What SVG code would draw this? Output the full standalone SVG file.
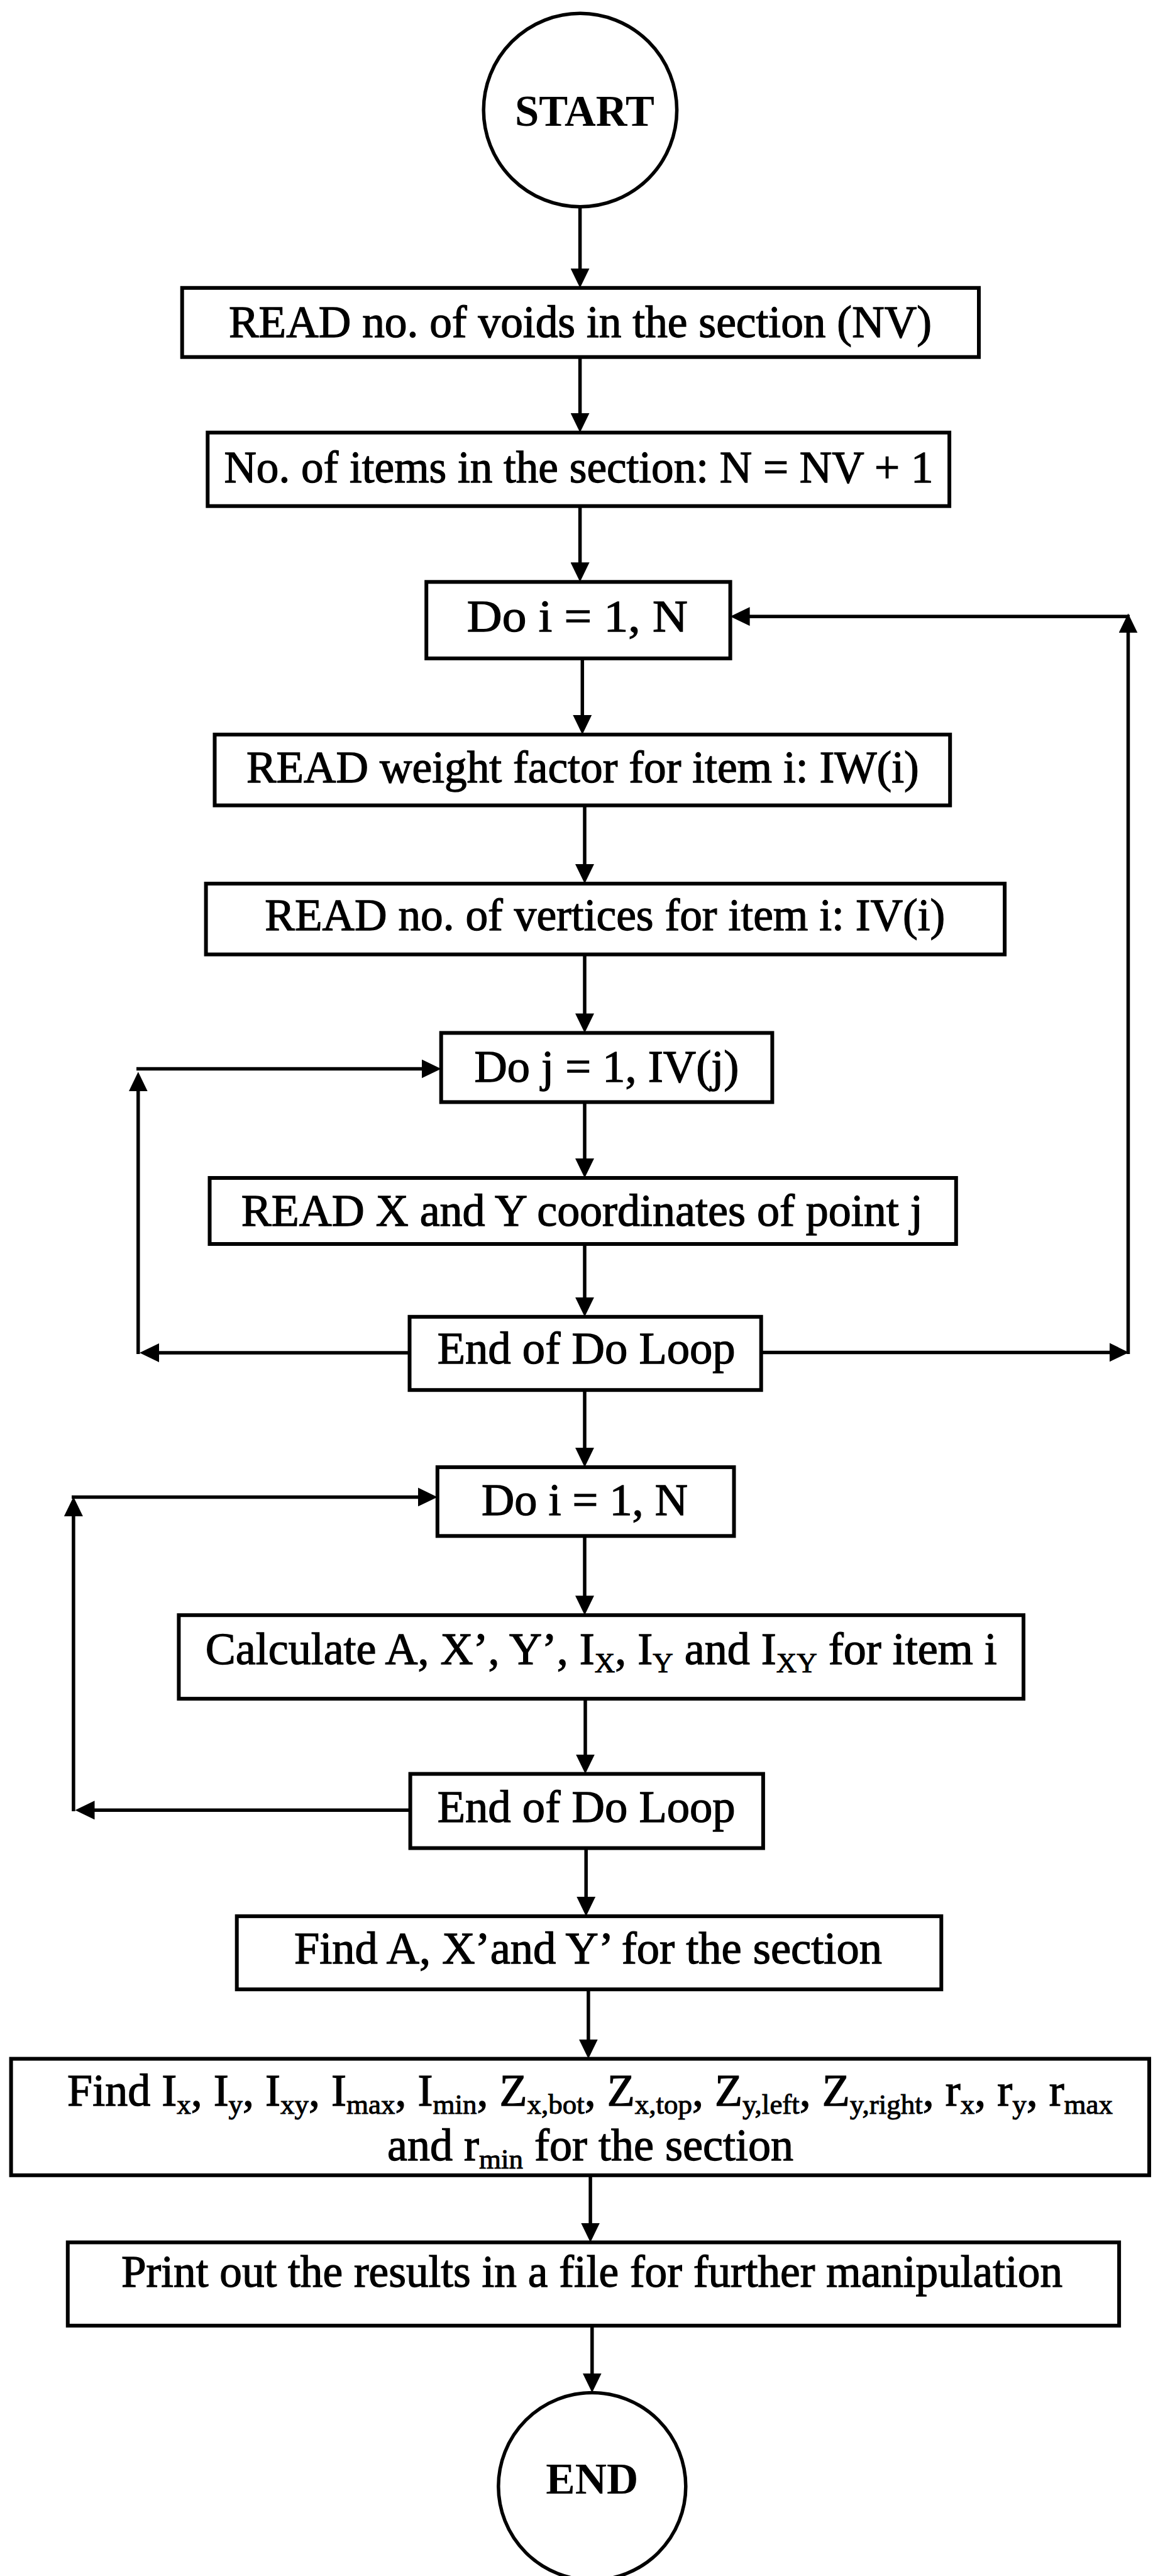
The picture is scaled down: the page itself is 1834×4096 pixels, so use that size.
<svg xmlns="http://www.w3.org/2000/svg" width="1834" height="4096" viewBox="0 0 1834 4096">
  <style>
    .box { fill: #ffffff; stroke: #000000; stroke-width: 6; }
    .term { fill: #ffffff; stroke: #000000; stroke-width: 5.5; }
    .ln { fill: none; stroke: #000000; stroke-width: 5.5; marker-end: url(#head); }
    .t { font-family: "Liberation Serif", "Times New Roman", serif; font-size: 72px; text-anchor: middle; fill: #000000; stroke: #000000; stroke-width: 1.3; }
    .tb { font-family: "Liberation Serif", "Times New Roman", serif; font-size: 70px; font-weight: bold; text-anchor: middle; fill: #000000; }
    .sub { font-size: 45px; stroke-width: 1; }
  </style>
  <defs>
    <marker id="head" markerUnits="userSpaceOnUse" viewBox="0 0 31 30" refX="21" refY="15" markerWidth="31" markerHeight="30" orient="auto">
      <path d="M0,0 L31,15 L0,30 Z" fill="#000000"/>
    </marker>
  </defs>
  <rect width="1834" height="4096" fill="#ffffff"/>

  <!-- connectors -->
  <g id="connectors">
    <path class="ln" d="M922.6,329 V447.8"/>
    <path class="ln" d="M922.6,567.7 V677.8"/>
    <path class="ln" d="M922.6,804.7 V915.3"/>
    <path class="ln" d="M926.3,1046.9 V1158"/>
    <path class="ln" d="M930,1280.6 V1395"/>
    <path class="ln" d="M930,1517.6 V1632.4"/>
    <path class="ln" d="M930,1752.4 V1863"/>
    <path class="ln" d="M930,1978 V2083.8"/>
    <path class="ln" d="M930,2210.2 V2322.9"/>
    <path class="ln" d="M930,2442.3 V2558.2"/>
    <path class="ln" d="M931,2701.1 V2810.6"/>
    <path class="ln" d="M932.2,2938.6 V3036.9"/>
    <path class="ln" d="M935.9,3163.2 V3263.6"/>
    <path class="ln" d="M939.1,3458.8 V3555.5"/>
    <path class="ln" d="M941.8,3697.9 V3794.6"/>

    <!-- outer loop (i), right side -->
    <path class="ln" d="M1210.7,2150.4 H1785.6"/>
    <path class="ln" d="M1794.5,2153 V985.4"/>
    <path class="ln" d="M1797,980.2 H1171.6"/>

    <!-- inner loop (j), left side -->
    <path class="ln" d="M651.5,2151 H232"/>
    <path class="ln" d="M219.8,2153 V1714.3"/>
    <path class="ln" d="M217,1699.5 H691.7"/>

    <!-- second loop (i), left side -->
    <path class="ln" d="M652.6,2878.3 H129.5"/>
    <path class="ln" d="M116.9,2880 V2390"/>
    <path class="ln" d="M114,2380.4 H685.8"/>
  </g>

  <g id="start">
    <circle class="term" cx="922.9" cy="175" r="153.7"/>
    <text class="tb" x="930" y="199.6" textLength="222" lengthAdjust="spacingAndGlyphs">START</text>
  </g>

  <g id="read-nv">
    <rect class="box" x="289.7" y="457.8" width="1267.3" height="109.9"/>
    <text class="t" x="923" y="536.3" textLength="1118" lengthAdjust="spacingAndGlyphs">READ no. of voids in the section (NV)</text>
  </g>

  <g id="items">
    <rect class="box" x="330.3" y="687.8" width="1179.8" height="116.9"/>
    <text class="t" x="920.5" y="766.8" textLength="1128" lengthAdjust="spacingAndGlyphs">No. of items in the section: N = NV + 1</text>
  </g>

  <g id="do-i-1">
    <rect class="box" x="678.2" y="925.3" width="483.4" height="121.6"/>
    <text class="t" x="918.3" y="1003.7" textLength="351" lengthAdjust="spacingAndGlyphs">Do i = 1, N</text>
  </g>

  <g id="read-iw">
    <rect class="box" x="341.5" y="1168" width="1169.7" height="112.6"/>
    <text class="t" x="926.9" y="1243.8" textLength="1070" lengthAdjust="spacingAndGlyphs">READ weight factor for item i: IW(i)</text>
  </g>

  <g id="read-iv">
    <rect class="box" x="327.6" y="1405" width="1270.5" height="112.6"/>
    <text class="t" x="962.3" y="1479.1" textLength="1082" lengthAdjust="spacingAndGlyphs">READ no. of vertices for item i: IV(i)</text>
  </g>

  <g id="do-j">
    <rect class="box" x="701.7" y="1642.4" width="526.7" height="110"/>
    <text class="t" x="965" y="1719.8" textLength="421" lengthAdjust="spacingAndGlyphs">Do j = 1, IV(j)</text>
  </g>

  <g id="read-xy">
    <rect class="box" x="333.5" y="1873" width="1187.3" height="105"/>
    <text class="t" x="925.8" y="1948.7" textLength="1084" lengthAdjust="spacingAndGlyphs">READ X and Y coordinates of point j</text>
  </g>

  <g id="end-loop-1">
    <rect class="box" x="651.5" y="2093.8" width="559.2" height="116.4"/>
    <text class="t" x="932.7" y="2168" textLength="474" lengthAdjust="spacingAndGlyphs">End of Do Loop</text>
  </g>

  <g id="do-i-2">
    <rect class="box" x="695.8" y="2332.9" width="471.7" height="109.4"/>
    <text class="t" x="930" y="2409.2" textLength="328" lengthAdjust="spacingAndGlyphs">Do i = 1, N</text>
  </g>

  <g id="calculate">
    <rect class="box" x="284.4" y="2568.2" width="1343.6" height="132.9"/>
    <text class="t" x="956.2" y="2646.1">Calculate A, X’, Y’, I<tspan class="sub" dy="13">X</tspan><tspan dy="-13">, I</tspan><tspan class="sub" dy="13">Y</tspan><tspan dy="-13"> and I</tspan><tspan class="sub" dy="13">XY</tspan><tspan dy="-13"> for item i</tspan></text>
  </g>

  <g id="end-loop-2">
    <rect class="box" x="652.6" y="2820.6" width="561.3" height="118"/>
    <text class="t" x="932.7" y="2897.4" textLength="474" lengthAdjust="spacingAndGlyphs">End of Do Loop</text>
  </g>

  <g id="find-centroid">
    <rect class="box" x="376.7" y="3046.9" width="1120.6" height="116.3"/>
    <text class="t" x="935.4" y="3122.1" textLength="935" lengthAdjust="spacingAndGlyphs">Find A, X’and Y’ for the section</text>
  </g>

  <g id="find-props">
    <rect class="box" x="17.6" y="3273.6" width="1810.4" height="185.2"/>
    <text class="t" x="938.6" y="3348.4">Find I<tspan class="sub" dy="13">x</tspan><tspan dy="-13">, I</tspan><tspan class="sub" dy="13">y</tspan><tspan dy="-13">, I</tspan><tspan class="sub" dy="13">xy</tspan><tspan dy="-13">, I</tspan><tspan class="sub" dy="13">max</tspan><tspan dy="-13">, I</tspan><tspan class="sub" dy="13">min</tspan><tspan dy="-13">, Z</tspan><tspan class="sub" dy="13">x,bot</tspan><tspan dy="-13">, Z</tspan><tspan class="sub" dy="13">x,top</tspan><tspan dy="-13">, Z</tspan><tspan class="sub" dy="13">y,left</tspan><tspan dy="-13">, Z</tspan><tspan class="sub" dy="13">y,right</tspan><tspan dy="-13">, r</tspan><tspan class="sub" dy="13">x</tspan><tspan dy="-13">, r</tspan><tspan class="sub" dy="13">y</tspan><tspan dy="-13">, r</tspan><tspan class="sub" dy="13">max</tspan></text>
    <text class="t" x="939" y="3434.9">and r<tspan class="sub" dy="13">min</tspan><tspan dy="-13"> for the section</tspan></text>
  </g>

  <g id="print">
    <rect class="box" x="107.8" y="3565.5" width="1672.3" height="132.4"/>
    <text class="t" x="941.5" y="3636" textLength="1497" lengthAdjust="spacingAndGlyphs">Print out the results in a file for further manipulation</text>
  </g>

  <g id="end">
    <circle class="term" cx="941.8" cy="3953.5" r="149"/>
    <text class="tb" x="941.8" y="3964.6" textLength="147" lengthAdjust="spacingAndGlyphs">END</text>
  </g>
</svg>
